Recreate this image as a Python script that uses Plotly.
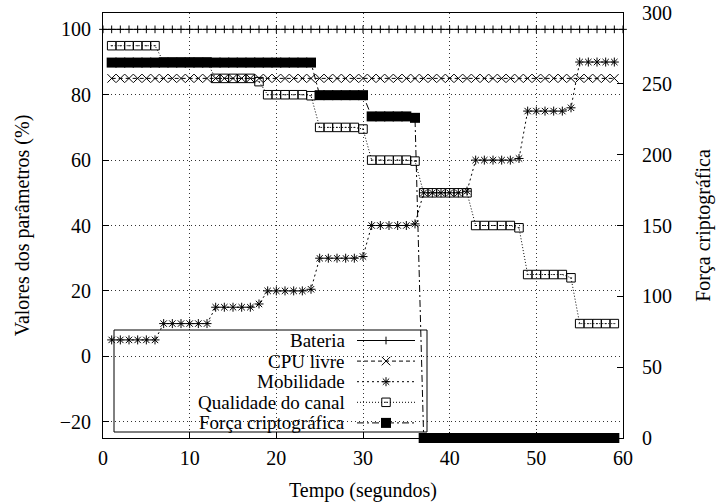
import plotly.graph_objects as go

# ---------------- data ----------------
tempo_bateria = [0, 1, 2, 3, 4, 5, 6, 7, 8, 9, 10, 11, 12, 13, 14, 15, 16, 17, 18, 19, 20,
                 21, 22, 23, 24, 25, 26, 27, 28, 29, 30, 31, 32, 33, 34, 35, 36, 37, 38, 39, 40,
                 41, 42, 43, 44, 45, 46, 47, 48, 49, 50, 51, 52, 53, 54, 55, 56, 57, 58, 59, 60]
bateria = [100] * len(tempo_bateria)

tempo = [1, 2, 3, 4, 5, 6, 7, 8, 9, 10, 11, 12, 13, 14, 15, 16, 17, 18, 19, 20,
         21, 22, 23, 24, 25, 26, 27, 28, 29, 30, 31, 32, 33, 34, 35, 36, 37, 38, 39, 40,
         41, 42, 43, 44, 45, 46, 47, 48, 49, 50, 51, 52, 53, 54, 55, 56, 57, 58, 59]

cpu_livre = [85] * len(tempo)

mobilidade = [5, 5, 5, 5, 5, 5,
              10, 10, 10, 10, 10, 10,
              15, 15, 15, 15, 15, 16,
              20, 20, 20, 20, 20, 20.5,
              30, 30, 30, 30, 30, 30.5,
              40, 40, 40, 40, 40, 40.5,
              50, 50, 50, 50, 50, 50.5,
              60, 60, 60, 60, 60, 60.5,
              75, 75, 75, 75, 75, 76,
              90, 90, 90, 90, 90]

qualidade_canal = [95, 95, 95, 95, 95, 95,
                   90, 90, 90, 90, 90, 90,
                   85, 85, 85, 85, 85, 84,
                   80, 80, 80, 80, 80, 79.7,
                   70, 70, 70, 70, 70, 69.5,
                   60, 60, 60, 60, 60, 59.7,
                   50, 50, 50, 50, 50, 50,
                   40, 40, 40, 40, 40, 39.3,
                   25, 25, 25, 25, 25, 24,
                   10, 10, 10, 10, 10]

forca_cripto = [265, 265, 265, 265, 265, 265, 265, 265, 265, 265, 265, 265,
                265, 265, 265, 265, 265, 265, 265, 265, 265, 265, 265, 265,
                242, 242, 242, 242, 242, 242,
                227, 227, 227, 227, 227, 226,
                0, 0, 0, 0, 0, 0, 0, 0, 0, 0, 0, 0, 0, 0, 0, 0, 0, 0, 0, 0, 0, 0, 0]

x_ticks = [0, 10, 20, 30, 40, 50, 60]
y_ticks = [-20, 0, 20, 40, 60, 80, 100]
y2_ticks = [0, 50, 100, 150, 200, 250, 300]

# ---------------- styles ----------------
FONT = "Liberation Serif, Times New Roman, Times, serif"
FS = 20
KEY_FS = 19
W, H = 719, 503
ML, MR, MT, MB = 103, 96, 13, 65

series = [
    dict(name="Bateria", x=tempo_bateria, y=bateria, dash="solid",
         symbol="cross-thin", size=5.5, yaxis="y"),
    dict(name="CPU livre", x=tempo, y=cpu_livre, dash="4px,3px",
         symbol="x-thin", size=8.5, yaxis="y"),
    dict(name="Mobilidade", x=tempo, y=mobilidade, dash="2px,3px",
         symbol="asterisk", size=7.5, yaxis="y"),
    dict(name="Qualidade do canal", x=tempo, y=qualidade_canal, dash="1px,2px",
         symbol="square-open-dot", size=8.5, yaxis="y"),
    dict(name="Força criptográfica", x=tempo, y=forca_cripto, dash="7px,3px,2px,3px",
         symbol="square", size=10, yaxis="y2"),
]

fig = go.Figure()
for s in series:
    filled = s["symbol"] == "square"
    fig.add_trace(go.Scatter(
        x=s["x"], y=s["y"], name=s["name"], yaxis=s["yaxis"],
        mode="lines+markers", showlegend=False, cliponaxis=False,
        line=dict(color="black", width=1, dash=s["dash"]),
        marker=dict(symbol=s["symbol"], size=s["size"], color="black",
                    line=dict(color="black", width=0 if filled else 1)),
    ))

# ---------------- custom gnuplot-style key (text right, sample left) ----------------
KEY_X0, KEY_X1, KEY_Y0, KEY_Y1 = 114, 427, 330, 432
KEY_TEXT_R = 347
KEY_LINE_X0, KEY_LINE_X1 = 357, 415
KEY_ROW0, KEY_ROW_STEP = 340.5, 20.6

annotations = []
for i, s in enumerate(series):
    ry = KEY_ROW0 + i * KEY_ROW_STEP
    fig.add_trace(go.Scatter(
        x=[KEY_LINE_X0, KEY_LINE_X1], y=[ry, ry], xaxis="x3", yaxis="y3",
        mode="lines", showlegend=False, hoverinfo="skip",
        line=dict(color="black", width=1, dash=s["dash"]),
    ))
    filled = s["symbol"] == "square"
    fig.add_trace(go.Scatter(
        x=[(KEY_LINE_X0 + KEY_LINE_X1) / 2], y=[ry], xaxis="x3", yaxis="y3",
        mode="markers", showlegend=False, hoverinfo="skip",
        marker=dict(symbol=s["symbol"], size=s["size"], color="black",
                    line=dict(color="black", width=0 if filled else 1)),
    ))
    annotations.append(dict(
        x=KEY_TEXT_R, y=ry, xref="x3", yref="y3", text=s["name"],
        xanchor="right", yanchor="middle", showarrow=False,
        font=dict(family=FONT, size=KEY_FS, color="black"),
    ))

shapes = [dict(type="rect", xref="x3", yref="y3", x0=KEY_X0, x1=KEY_X1,
               y0=KEY_Y0, y1=KEY_Y1, line=dict(color="black", width=1),
               fillcolor="rgba(0,0,0,0)", layer="above")]

axis_common = dict(
    showline=True, linecolor="black", linewidth=1,
    ticks="inside", ticklen=6, tickcolor="black", tickwidth=1,
    zeroline=False, automargin=False,
    tickfont=dict(family=FONT, size=FS, color="black"),
)
GRID = dict(showgrid=True, gridcolor="#333", griddash="1px,3px", gridwidth=1)

fig.update_layout(
    width=W, height=H,
    margin=dict(l=ML, r=MR, t=MT, b=MB, pad=0, autoexpand=False),
    paper_bgcolor="white", plot_bgcolor="white",
    font=dict(family=FONT, size=FS, color="black"),
    showlegend=False,
    xaxis=dict(range=[0, 60], tickvals=x_ticks, mirror=True,
               ticklabelstandoff=2,
               title=dict(text="Tempo (segundos)", standoff=14,
                          font=dict(family=FONT, size=FS)),
               **GRID, **axis_common),
    yaxis=dict(range=[-25, 105], tickvals=y_ticks, mirror=True,
               ticklabelstandoff=7,
               title=dict(text="Valores dos parâmetros (%)", standoff=24,
                          font=dict(family=FONT, size=FS)),
               **GRID, **axis_common),
    yaxis2=dict(range=[0, 300], tickvals=y2_ticks, overlaying="y", side="right",
                showgrid=False, ticklabelstandoff=14,
                title=dict(text="Força criptográfica", standoff=24,
                           font=dict(family=FONT, size=FS)),
                **axis_common),
    xaxis3=dict(overlaying="x", anchor="y3", range=[ML, W - MR], visible=False,
                fixedrange=True),
    yaxis3=dict(overlaying="y", anchor="x3", range=[H - MB, MT], visible=False,
                fixedrange=True),
    annotations=annotations,
    shapes=shapes,
)

# remove the default 8px page margin so the 719x503 figure fills the window
fig.write_html("out.html",
               config={"displayModeBar": False},
               post_script="document.body.style.margin='0px';document.body.style.overflow='hidden';")
